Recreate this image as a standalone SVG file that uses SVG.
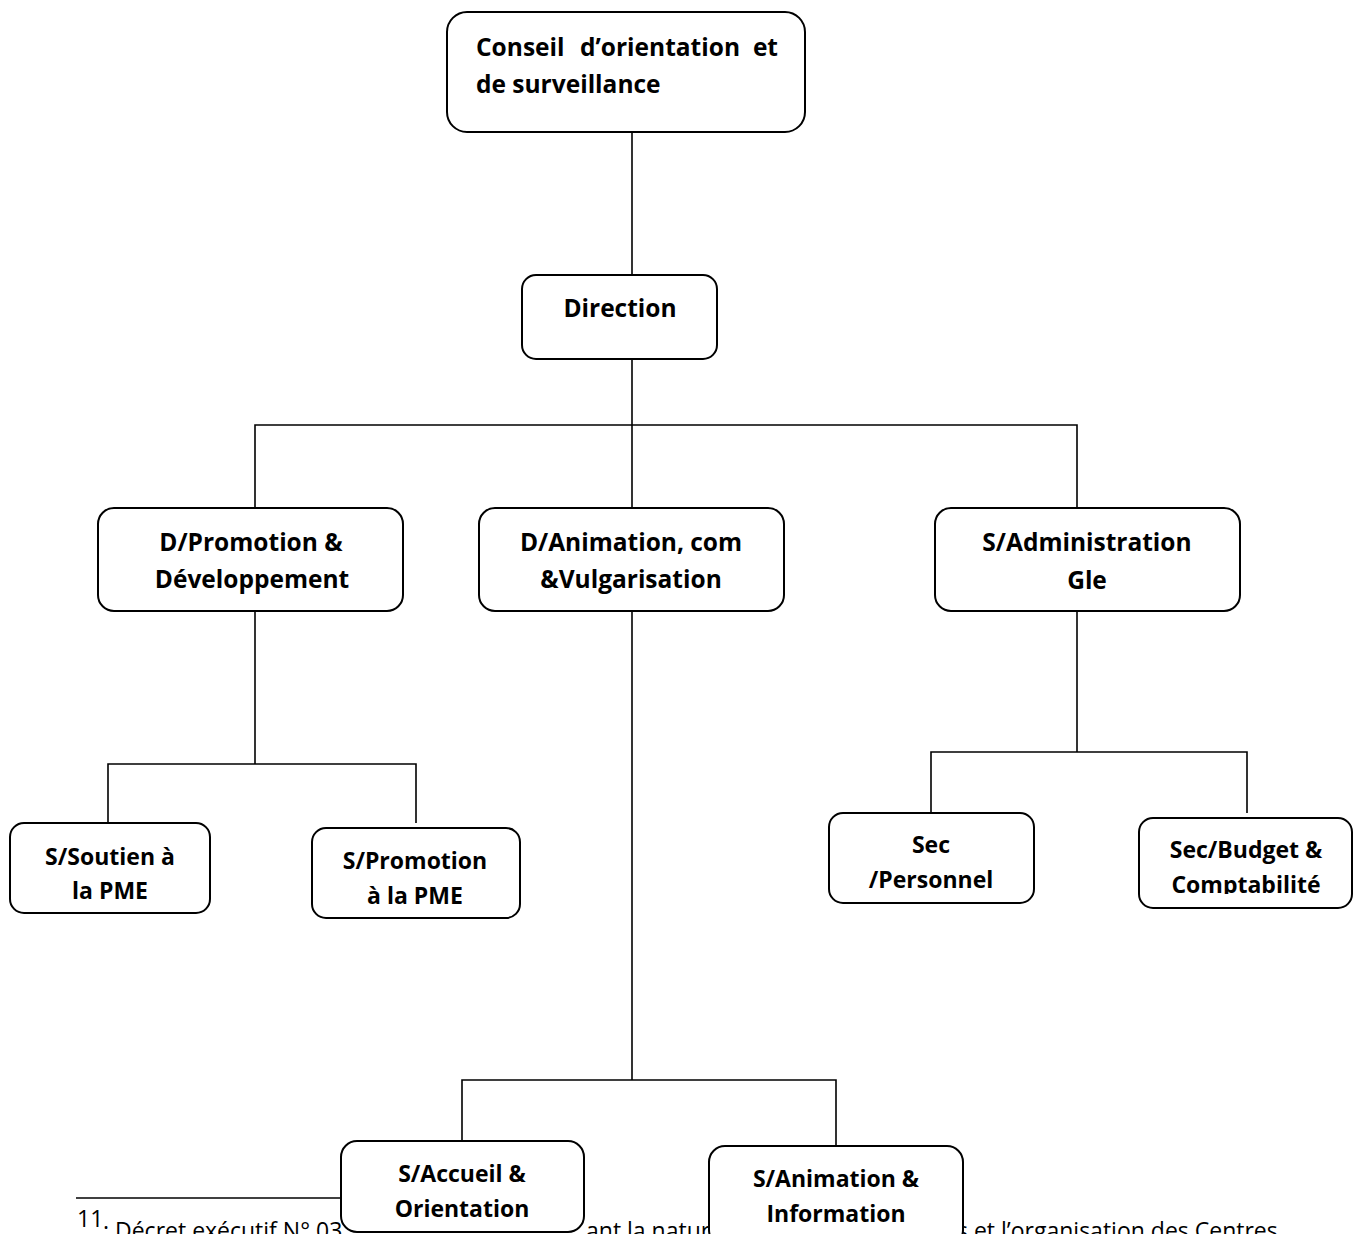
<svg xmlns="http://www.w3.org/2000/svg" width="1357" height="1234" viewBox="0 0 1357 1234">
<style>
.box{fill:#fff;stroke:#000;stroke-width:2}
.lbl{font-family:"Open Sans","Liberation Sans",sans-serif;font-weight:700;font-size:23px;fill:#000;text-anchor:middle}
.big{font-size:24.5px}
.ln{stroke:#000;stroke-width:1.6;fill:none}
.fn{font-family:"Open Sans","Liberation Sans",sans-serif;font-size:23px;fill:#000}
</style>
<defs>
<clipPath id="clipBudget"><rect x="1139" y="818" width="213" height="76"/></clipPath>
<clipPath id="clipPers"><rect x="829" y="813" width="205" height="77"/></clipPath>
</defs>
<rect width="1357" height="1234" fill="#fff"/>
<g id="footnote">
<line class="ln" x1="76" y1="1198" x2="345" y2="1198"/>
<text class="fn" x="77" y="1227" font-size="13">11</text>
<text class="fn" x="103" y="1239">: Décret exécutif N° 03</text>
<text class="fn" x="586" y="1239">ant la natur</text>
<text class="fn" x="957" y="1239">s et l’organisation des Centres</text>
</g>
<g id="connectors">
<path class="ln" d="M632 132V275"/>
<path class="ln" d="M632 359V508"/>
<path class="ln" d="M255 508V425H1077V508"/>
<path class="ln" d="M255 611V764"/>
<path class="ln" d="M108 823V764H416V823"/>
<path class="ln" d="M1077 611V752"/>
<path class="ln" d="M931 813V752H1247V813"/>
<path class="ln" d="M632 611V1080"/>
<path class="ln" d="M462 1141V1080H836V1146"/>
</g>
<g id="n-conseil">
<rect class="box" x="447" y="12" width="358" height="120" rx="20"/>
<text class="lbl big" x="476" y="56" style="text-anchor:start">Conseil</text>
<text class="lbl big" x="580" y="56" style="text-anchor:start">d’orientation</text>
<text class="lbl big" x="778" y="56" style="text-anchor:end">et</text>
<text class="lbl big" x="476" y="93" style="text-anchor:start">de surveillance</text>
</g>
<g id="n-direction">
<rect class="box" x="522" y="275" width="195" height="84" rx="14"/>
<text class="lbl big" x="620" y="317">Direction</text>
</g>
<g id="n-dpromotion">
<rect class="box" x="98" y="508" width="305" height="103" rx="16"/>
<text class="lbl big" x="251" y="551">D/Promotion &amp;</text>
<text class="lbl big" x="252" y="588">Développement</text>
</g>
<g id="n-danimation">
<rect class="box" x="479" y="508" width="305" height="103" rx="16"/>
<text class="lbl big" x="631" y="551">D/Animation, com</text>
<text class="lbl big" x="631" y="588">&amp;Vulgarisation</text>
</g>
<g id="n-sadmin">
<rect class="box" x="935" y="508" width="305" height="103" rx="16"/>
<text class="lbl big" x="1087" y="551">S/Administration</text>
<text class="lbl big" x="1087" y="589">Gle</text>
</g>
<g id="n-ssoutien">
<rect class="box" x="10" y="823" width="200" height="90" rx="14"/>
<text class="lbl" x="110" y="865">S/Soutien à</text>
<text class="lbl" x="110" y="899">la PME</text>
</g>
<g id="n-spromotion">
<rect class="box" x="312" y="828" width="208" height="90" rx="14"/>
<text class="lbl" x="415" y="869">S/Promotion</text>
<text class="lbl" x="415" y="904">à la PME</text>
</g>
<g id="n-personnel">
<rect class="box" x="829" y="813" width="205" height="90" rx="14"/>
<text class="lbl" x="931" y="853">Sec</text>
<text class="lbl" x="931" y="888" clip-path="url(#clipPers)">/Personnel</text>
</g>
<g id="n-budget">
<rect class="box" x="1139" y="818" width="213" height="90" rx="14"/>
<text class="lbl" x="1246" y="858">Sec/Budget &amp;</text>
<text class="lbl" x="1246" y="893" clip-path="url(#clipBudget)">Comptabilité</text>
</g>
<g id="n-accueil">
<rect class="box" x="341" y="1141" width="243" height="91" rx="16"/>
<text class="lbl" x="462" y="1182">S/Accueil &amp;</text>
<text class="lbl" x="462" y="1217">Orientation</text>
</g>
<g id="n-sanimation">
<rect class="box" x="709" y="1146" width="254" height="100" rx="16"/>
<text class="lbl" x="836" y="1187">S/Animation &amp;</text>
<text class="lbl" x="836" y="1222">Information</text>
</g>
</svg>
